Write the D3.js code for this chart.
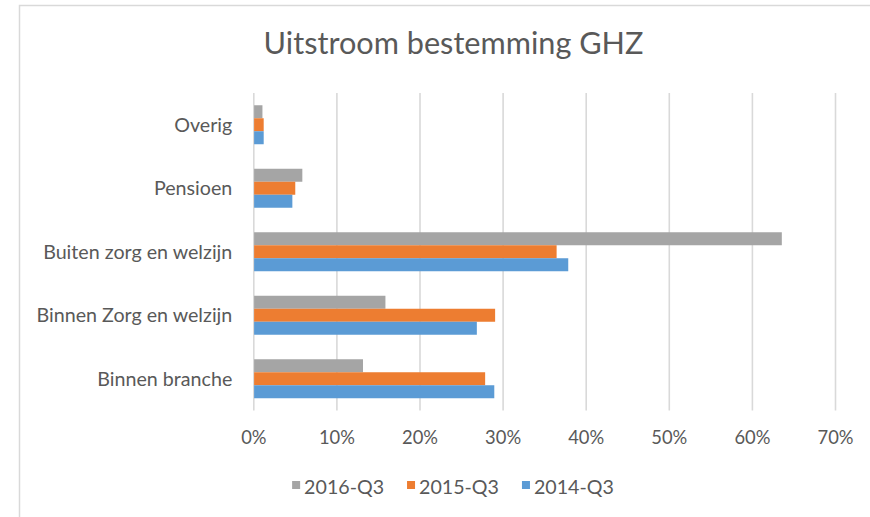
<!DOCTYPE html>
<html><head><meta charset="utf-8">
<script src="https://cdn.jsdelivr.net/npm/d3@7"></script>
<style>
body{margin:0;background:#fff}
text{font-family:Lato,"Open Sans",sans-serif;fill:#595959}
</style>
</head><body>
<svg id="c" width="870" height="517"></svg>
<script>
// ---- data ----
const categories = ["Overig","Pensioen","Buiten zorg en welzijn","Binnen Zorg en welzijn","Binnen branche"];
const seriesNames = ["2016-Q3","2015-Q3","2014-Q3"];
const s2016 = [1.1, 5.9, 63.6, 15.9, 13.2];
const s2015 = [1.25, 5.05, 36.5, 29.1, 27.9];
const s2014 = [1.25, 4.7, 37.9, 26.9, 29.0];
const tickValues = [0,10,20,30,40,50,60,70];
const titleText = "Uitstroom bestemming GHZ";

const seriesValues = [s2016, s2015, s2014];
const colors = ["#A5A5A5","#ED7D31","#5B9BD5"];

const svg = d3.select("#c");
const plot = {left:253.3, right:835, top:93, bottom:410.5};

// fit a font size so that a reference string has a target width
function fit(str, target){
  const t = svg.append("text").style("font-size","100px").text(str);
  const w = t.node().getComputedTextLength();
  t.remove();
  return 100*target/w;
}
const fsTitle = fit(titleText, 380);
const fsCat = fit("Binnen Zorg en welzijn", 196);
const fsTick = fit("10%", 36);
const fsLeg = fit("2016-Q3", 80);

// outer border
svg.append("rect").attr("x",19.5).attr("y",5.5).attr("width",900).attr("height",600)
  .attr("fill","none").attr("stroke","#D9D9D9").attr("stroke-width",1.5);

// scales
const x = d3.scaleLinear().domain([0,70]).range([plot.left, plot.right]);
const y = d3.scaleBand().domain(categories).range([plot.top, plot.bottom])
  .paddingInner(0.386).paddingOuter(0.193);
const ys = d3.scaleBand().domain(seriesNames).range([0, y.bandwidth()]);

// gridlines
const grid = svg.append("g").attr("transform",`translate(0,${plot.bottom})`)
  .call(d3.axisBottom(x).tickValues(tickValues).tickSize(-(plot.bottom-plot.top)).tickFormat(""));
grid.select(".domain").remove();
grid.selectAll("line").attr("stroke","#D9D9D9").attr("stroke-width",1.6);

// bars
const rows = [];
categories.forEach((c,i)=>seriesNames.forEach((s,j)=>rows.push({c, s, v:seriesValues[j][i], col:colors[j]})));
svg.append("g").selectAll("rect").data(rows).join("rect")
  .attr("x", x(0)+0.8)
  .attr("y", d=>y(d.c)+ys(d.s))
  .attr("width", d=>x(d.v)-x(0)-0.8)
  .attr("height", ys.bandwidth())
  .attr("fill", d=>d.col);

// x axis labels
const xa = svg.append("g").attr("transform",`translate(0,${plot.bottom})`)
  .call(d3.axisBottom(x).tickValues(tickValues).tickSize(0).tickFormat(d=>d+"%"));
xa.select(".domain").remove();
xa.selectAll("text").attr("y",33).attr("dy",0)
  .style("font-size",fsTick+"px").style("font-family",null).attr("fill",null);

// y axis labels
const ya = svg.append("g").attr("transform",`translate(${plot.left},0)`)
  .call(d3.axisLeft(y).tickSize(0).tickPadding(21));
ya.select(".domain").remove();
ya.selectAll("text").attr("dy","0.36em")
  .style("font-size",fsCat+"px").attr("fill",null);

// title
svg.append("text").attr("x",453.5).attr("y",54).attr("text-anchor","middle")
  .style("font-size",fsTitle+"px").text(titleText);

// legend
const leg = svg.append("g");
let cx = 0;
const items = seriesNames.map((s,j)=>{
  const g = leg.append("g").attr("transform",`translate(${cx},0)`);
  g.append("rect").attr("x",0).attr("y",-13).attr("width",8).attr("height",8).attr("fill",colors[j]);
  const t = g.append("text").attr("x",12).attr("y",0).style("font-size",fsLeg+"px").text(s);
  const w = 12 + t.node().getComputedTextLength();
  cx += w + 23;
  return w;
});
const totalW = cx - 23;
leg.attr("transform",`translate(${453 - totalW/2},494)`);
</script>
</body></html>
